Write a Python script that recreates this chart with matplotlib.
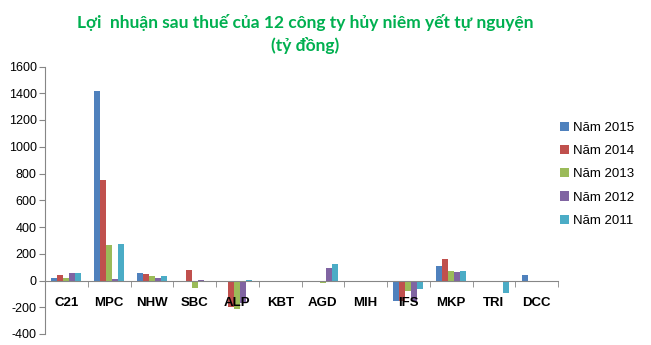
import matplotlib
matplotlib.use("Agg")
import matplotlib.pyplot as plt
import numpy as np

categories = ["C21", "MPC", "NHW", "SBC", "ALP", "KBT", "AGD", "MIH", "IFS", "MKP", "TRI", "DCC"]
series_names = ["Năm 2015", "Năm 2014", "Năm 2013", "Năm 2012", "Năm 2011"]
nam_2015 = [15, 1415, 55, 0, -5, 0, 0, 0, -157, 110, 0, 42]
nam_2014 = [40, 750, 45, 75, -200, -5, 0, 0, -157, 162, 0, 0]
nam_2013 = [15, 265, 37, -57, -215, -5, -15, 0, -82, 72, 0, 0]
nam_2012 = [55, 10, 22, 7, -170, -5, 90, -5, -152, 65, 0, -5]
nam_2011 = [55, 270, 37, -10, 7, 0, 120, -5, -62, 72, -90, -5]
colors = ["#4F81BD", "#C0504D", "#9BBB59", "#8064A2", "#4BACC6"]
title = "Lợi  nhuận sau thuế của 12 công ty hủy niêm yết tự nguyện\n(tỷ đồng)"

plt.rcParams['font.family'] = ['Liberation Sans', 'DejaVu Sans']
plt.rcParams['axes.unicode_minus'] = False

fig = plt.figure(figsize=(6.51, 3.45), dpi=100)
W, H = 651, 345
ax = fig.add_axes([45 / W, 11 / H, (558 - 45) / W, (334 - 66.5) / H])

data = [nam_2015, nam_2014, nam_2013, nam_2012, nam_2011]
x = np.arange(len(categories))
bw = 0.14
for i, (vals, c, name) in enumerate(zip(data, colors, series_names)):
    ax.bar(x + (i - 2) * bw, vals, width=bw, color=c, label=name, zorder=1)

ax.set_xlim(-0.5, len(categories) - 0.5)
ax.set_ylim(-400, 1600)
ax.set_yticks(range(-400, 1601, 200))
ax.tick_params(axis='y', labelsize=9, length=4, color='#868686', pad=2)

ax.spines['bottom'].set_position(('data', 0))
for s in ['top', 'right']:
    ax.spines[s].set_visible(False)
ax.spines['bottom'].set_color('#868686')
ax.spines['left'].set_color('#868686')

ax.set_xticks(x)
ax.set_xticklabels(categories, fontweight='bold', fontsize=9.5)
ax.tick_params(axis='x', which='major', length=0, pad=12)
ax.set_xticks(np.arange(-0.5, len(categories) + 0.5, 1), minor=True)
ax.tick_params(axis='x', which='minor', length=4, color='#868686', direction='out')

fig.text(305 / W, 1 - 34 / H, title, ha='center', va='center', color='#00B050',
         fontsize=12.5, fontweight='bold', family=['Lato', 'DejaVu Sans'], linespacing=1.45)

leg = fig.legend(loc='upper left', bbox_to_anchor=(548 / W, 1 - 110 / H), frameon=False,
                 fontsize=9.5, handlelength=0.7, handleheight=0.7, handletextpad=0.3,
                 labelspacing=0.83)

fig.savefig("out.png", dpi=100)
